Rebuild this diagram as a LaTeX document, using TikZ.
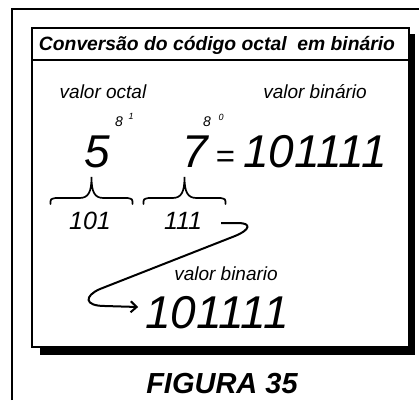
\documentclass[tikz,border=0pt]{standalone}
\usepackage{fontspec}
\setmainfont{Liberation Sans}
\usetikzlibrary{arrows.meta}

\tikzset{
	lbl/.style={anchor=base, inner sep=0pt, font=\itshape\fontsize{19}{19}\selectfont},
	big/.style={anchor=base, inner sep=0pt, font=\itshape\fontsize{46}{46}\selectfont},
	grp/.style={anchor=base, inner sep=0pt, font=\itshape\fontsize{25}{25}\selectfont},
	pow/.style={anchor=base, inner sep=0pt, font=\itshape\fontsize{14}{14}\selectfont},
	powsup/.style={anchor=base, inner sep=0pt, font=\itshape\fontsize{9}{9}\selectfont},
	bracket/.style={line width=1.7pt, line cap=round},
}

\begin{document}
\begin{tikzpicture}[x=1pt, y=-1pt]
	\useasboundingbox (0,0) rectangle (419,400);
	% outer frame
	\draw[line width=2pt] (12,400) -- (12,9) -- (419,9);
	% box with shadow
	\fill[black] (40,34) rectangle (415,355);
	\draw[line width=2pt, fill=white] (32,28) rectangle (409,347);
	\draw[line width=1.5pt] (32,60) -- (409,60);
	\node[anchor=base, inner sep=0pt, font=\bfseries\itshape\fontsize{19.3}{19.3}\selectfont] (title) at (217,50) {Conversão do código octal\ \ em binário};

	\node[lbl] (vo) at (103,98) {valor octal};
	\node[lbl] (vb) at (315,98) {valor binário};
	\node[pow] (p1) at (119,126) {8};
	\node[powsup] (s1) at (131,119) {1};
	\node[pow] (p0) at (207,126) {8};
	\node[powsup] (s0) at (221,120) {0};

	\node[big] (d5) at (97,167) {5};
	\node[big] (d7) at (195,167) {7};
	\node[anchor=base, inner sep=0pt, font=\itshape\fontsize{33}{33}\selectfont] (eq) at (225,167) {=};
	\node[big] (bin) at (315,167) {101111};

	% braces
	\foreach \x in {91.5,184.5} {
		\draw[bracket] (\x-41,204) .. controls (\x-41,199) .. (\x-36,198) -- (\x-12,198)
			.. controls (\x-3,198) and (\x,192) .. (\x,177)
			.. controls (\x,192) and (\x+3,198) .. (\x+12,198) -- (\x+36,198)
			.. controls (\x+41,199) .. (\x+41,204);
	}
	\node[grp] (g5) at (90,229) {101};
	\node[grp] (g7) at (183,229) {111};

	\node[lbl] (vb2) at (226,280) {valor binario};
	\node[big] (bin2) at (217,328) {101111};

	% arrow
	\coordinate (a1) at ([xshift=19pt, yshift=6pt]g7.base east);
	\coordinate (a2) at ([xshift=-7pt, yshift=21pt]bin2.base west);
	\draw[line width=2pt, -{Straight Barb[length=6pt, width=11pt]}] (a1) -- (238,223)
		.. controls (252,223) and (250,230) .. (235,236) -- (100,289)
		.. controls (84,296) and (84,306) .. (105,306) -- (a2);

	\node[anchor=base, inner sep=0pt, font=\bfseries\itshape\fontsize{29}{29}\selectfont] (fig) at (222,393) {FIGURA 35};
\end{tikzpicture}
\end{document}
